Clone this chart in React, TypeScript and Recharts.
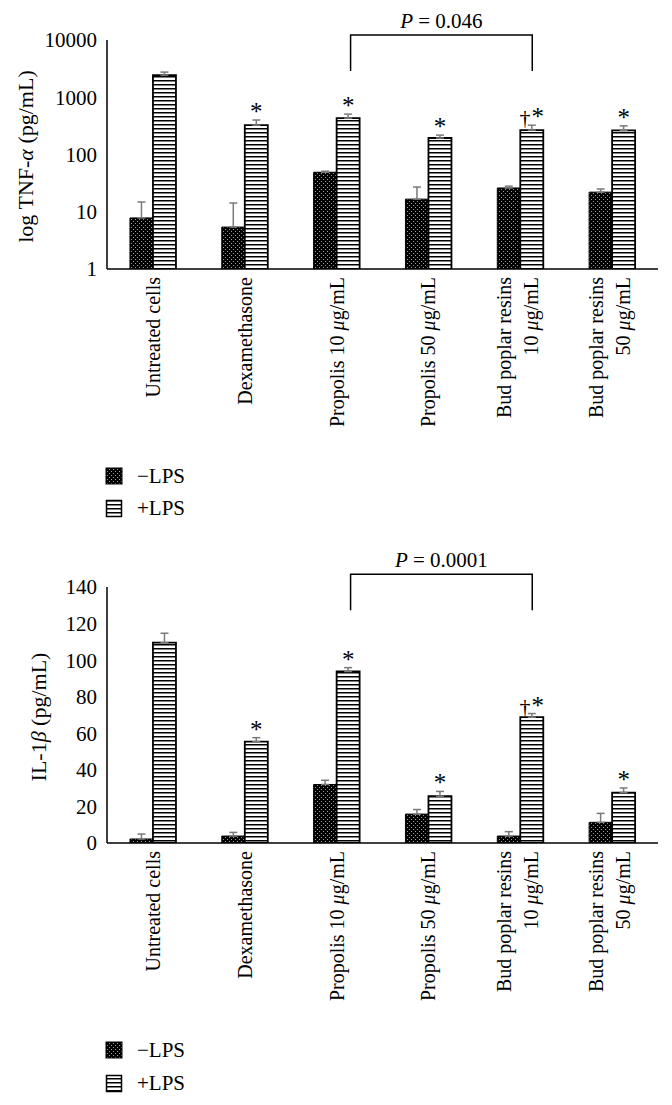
import React from 'react';
import { BarChart, Bar, XAxis, YAxis, ErrorBar, LabelList, ReferenceLine } from 'recharts';

const FONT = '"Liberation Serif", "Times New Roman", Times, serif';

const categories = [
  'Untreated cells',
  'Dexamethasone',
  'Propolis 10 μg/mL',
  'Propolis 50 μg/mL',
  'Bud poplar resins\n10 μg/mL',
  'Bud poplar resins\n50 μg/mL',
];

const tnfMinus = [7.8, 5.4, 49, 16.6, 26, 22];
const tnfMinusErr = [7, 8.8, 2, 10.4, 2, 3];
const tnfPlus = [2430, 325, 431, 194, 267, 263];
const tnfPlusErr = [320, 75, 76, 24, 58, 53];
const tnfTicks = [1, 10, 100, 1000, 10000];
const tnfBracketY = 12200;

const ilMinus = [2.2, 3.8, 32, 15.8, 3.8, 11.3];
const ilMinusErr = [2.7, 2.0, 2.3, 2.5, 2.4, 4.9];
const ilPlus = [109.6, 55.4, 93.8, 25.6, 68.8, 27.6];
const ilPlusErr = [5.1, 2.2, 2.1, 2.6, 2.0, 2.5];
const ilTicks = [0, 20, 40, 60, 80, 100, 120, 140];
const ilBracketY = 147;

const marks = ['', '*', '*', '*', '†*', '*'];
const legendNames = ['−LPS', '+LPS'];

const build = (minus: number[], minusErr: number[], plus: number[], plusErr: number[]) =>
  categories.map((c, i) => ({
    cat: c,
    minus: minus[i],
    minusErr: [0, minusErr[i]],
    plus: plus[i],
    plusErr: [0, plusErr[i]],
  }));

const tnfData = build(tnfMinus, tnfMinusErr, tnfPlus, tnfPlusErr);
const ilData = build(ilMinus, ilMinusErr, ilPlus, ilPlusErr);

const withMu = (s: string) => {
  const parts = s.split('μ');
  const out: any[] = [];
  parts.forEach((p, i) => {
    if (i > 0) out.push(<tspan key={'m' + i} fontStyle="italic">μ</tspan>);
    out.push(<tspan key={'t' + i}>{p}</tspan>);
  });
  return out;
};

const CatTick = (props: any) => {
  const { x, y, payload } = props;
  const lines = String(payload.value).split('\n');
  const lh = 27;
  const base = lines.length === 1 ? 7 : 7 - 3 - lh / 2;
  return (
    <g transform={`translate(${x},${y})`}>
      <text transform="rotate(-90)" textAnchor="end" fontSize={20} fontFamily={FONT} fill="#000">
        {lines.map((l, i) => (
          <tspan key={i} x={0} y={base + i * lh}>
            {withMu(l)}
          </tspan>
        ))}
      </text>
    </g>
  );
};

const makeMark = (plus: number[], plusErr: number[], log: boolean) => (props: any) => {
  const { x, y, width, height, index } = props;
  const m = marks[index];
  if (!m) return null;
  const v = plus[index];
  const e = plusErr[index];
  const h = Number(height);
  const ep = log ? (h * (Math.log10(v + e) - Math.log10(v))) / Math.log10(v) : (e * h) / v;
  const cx = Number(x) + Number(width) / 2;
  const by = Number(y) - ep;
  if (m.length > 1) {
    return (
      <text x={cx} y={by} textAnchor="middle" fontSize={25} fontFamily={FONT} fill="#000">
        <tspan fontSize={22}>†</tspan>
        <tspan dx={1}>*</tspan>
      </text>
    );
  }
  return (
    <text x={cx} y={by} textAnchor="middle" fontSize={25} fontFamily={FONT} fill="#000">
      {m}
    </text>
  );
};

const makeBracket = (pLabel: string) => (p: any) => {
  const { x1, y1, x2 } = p;
  const l = Number(x1) + 14;
  const r = Number(x2) + 12;
  const yy = Number(y1);
  return (
    <g>
      <path d={`M${l},${yy + 36} L${l},${yy} L${r},${yy} L${r},${yy + 36}`} fill="none" stroke="#000" strokeWidth={1.5} />
      <text x={(l + r) / 2} y={yy - 7} textAnchor="middle" fontSize={21} fontFamily={FONT} fill="#000">
        <tspan fontStyle="italic">P</tspan>
        <tspan>{' = ' + pLabel}</tspan>
      </text>
    </g>
  );
};

const YTitle = (parts: { t: string; i?: boolean }[], dx: number) => (props: any) => {
  const vb = props.viewBox || {};
  const cx = dx;
  const cy = vb.y + vb.height / 2 + 2;
  return (
    <text
      transform={`translate(${cx},${cy}) rotate(-90)`}
      textAnchor="middle"
      dy="0.35em"
      fontSize={22}
      fontFamily={FONT}
      fill="#000"
    >
      {parts.map((p, i) => (
        <tspan key={i} fontStyle={p.i ? 'italic' : 'normal'}>
          {p.t}
        </tspan>
      ))}
    </text>
  );
};

const Legend2 = ({ top, gap }: { top: number; gap: number }) => (
  <svg width={300} height={70} style={{ position: 'absolute', left: 0, top: top - 4 }}>
    <g transform="translate(0,4)">
      <rect x={106} y={0} width={16} height={16} fill="url(#dots)" stroke="#000" strokeWidth={1} />
      <text x={137} y={8} dy="0.35em" fontSize={21} fontFamily={FONT} fill="#000">
        {legendNames[0]}
      </text>
      <rect x={106.5} y={gap + 0.5} width={15} height={16} fill="url(#hlines)" stroke="#000" strokeWidth={1.5} />
      <text x={137} y={gap + 8} dy="0.35em" fontSize={21} fontFamily={FONT} fill="#000">
        {legendNames[1]}
      </text>
    </g>
  </svg>
);

const axisLine = { stroke: '#000', strokeWidth: 1.5 };
const yTick = { fill: '#000', fontSize: 21, fontFamily: FONT };

export default function App() {
  return (
    <div style={{ position: 'absolute', left: 0, top: 0, width: 672, height: 1105, background: '#fff', overflow: 'hidden' }}>
      <svg width={0} height={0} style={{ position: 'absolute' }}>
        <defs>
          <pattern id="dots" patternUnits="userSpaceOnUse" width={4} height={4}>
            <rect x={0} y={0} width={4} height={4} fill="#000" />
            <rect x={1} y={1} width={1} height={1} fill="#9a9a9a" />
            <rect x={3} y={3} width={1} height={1} fill="#9a9a9a" />
          </pattern>
          <pattern id="hlines" patternUnits="userSpaceOnUse" width={4} height={4}>
            <rect x={0} y={0} width={4} height={4} fill="#fff" />
            <rect x={0} y={0} width={4} height={1.5} fill="#000" />
          </pattern>
        </defs>
      </svg>

      <div style={{ position: 'absolute', left: 0, top: 0 }}>
        <BarChart
          width={672}
          height={462}
          data={tnfData}
          margin={{ top: 40, right: 14, left: 0, bottom: 0 }}
          barCategoryGap="25%"
          barGap={0}
        >
          <XAxis
            dataKey="cat"
            interval={0}
            height={193}
            tickLine={false}
            tickSize={0}
            tickMargin={8}
            axisLine={axisLine}
            tick={<CatTick />}
          />
          <YAxis
            scale="log"
            type="number"
            domain={[1, 10000]}
            ticks={tnfTicks}
            allowDataOverflow
            interval={0}
            width={107}
            tickLine={false}
            tickSize={0}
            tickMargin={10}
            axisLine={axisLine}
            tick={yTick}
            label={{ content: YTitle([{ t: 'log TNF-' }, { t: 'α', i: true }, { t: ' (pg/mL)' }], 25) }}
          />
          <Bar dataKey="minus" fill="url(#dots)" stroke="#000" strokeWidth={1} isAnimationActive={false}>
            <ErrorBar dataKey="minusErr" width={4} stroke="#7a7a7a" strokeWidth={1.5} />
          </Bar>
          <Bar dataKey="plus" fill="url(#hlines)" stroke="#000" strokeWidth={1.8} isAnimationActive={false}>
            <ErrorBar dataKey="plusErr" width={4} stroke="#7a7a7a" strokeWidth={1.5} />
            <LabelList dataKey="plus" content={makeMark(tnfPlus, tnfPlusErr, true)} />
          </Bar>
          <ReferenceLine
            ifOverflow="visible"
            segment={[
              { x: categories[2], y: tnfBracketY },
              { x: categories[4], y: tnfBracketY },
            ]}
            shape={makeBracket('0.046')}
          />
        </BarChart>
      </div>
      <Legend2 top={468} gap={32} />

      <div style={{ position: 'absolute', left: 0, top: 540 }}>
        <BarChart
          width={672}
          height={495}
          data={ilData}
          margin={{ top: 47, right: 14, left: 0, bottom: 0 }}
          barCategoryGap="25%"
          barGap={0}
        >
          <XAxis
            dataKey="cat"
            interval={0}
            height={192}
            tickLine={false}
            tickSize={0}
            tickMargin={8}
            axisLine={axisLine}
            tick={<CatTick />}
          />
          <YAxis
            type="number"
            domain={[0, 140]}
            ticks={ilTicks}
            allowDataOverflow
            interval={0}
            width={107}
            tickLine={false}
            tickSize={0}
            tickMargin={10}
            axisLine={axisLine}
            tick={yTick}
            label={{ content: YTitle([{ t: 'IL-1' }, { t: 'β', i: true }, { t: ' (pg/mL)' }], 38) }}
          />
          <Bar dataKey="minus" fill="url(#dots)" stroke="#000" strokeWidth={1} isAnimationActive={false}>
            <ErrorBar dataKey="minusErr" width={4} stroke="#7a7a7a" strokeWidth={1.5} />
          </Bar>
          <Bar dataKey="plus" fill="url(#hlines)" stroke="#000" strokeWidth={1.8} isAnimationActive={false}>
            <ErrorBar dataKey="plusErr" width={4} stroke="#7a7a7a" strokeWidth={1.5} />
            <LabelList dataKey="plus" content={makeMark(ilPlus, ilPlusErr, false)} />
          </Bar>
          <ReferenceLine
            ifOverflow="visible"
            segment={[
              { x: categories[2], y: ilBracketY },
              { x: categories[4], y: ilBracketY },
            ]}
            shape={makeBracket('0.0001')}
          />
        </BarChart>
      </div>
      <Legend2 top={1042} gap={33} />
    </div>
  );
}
